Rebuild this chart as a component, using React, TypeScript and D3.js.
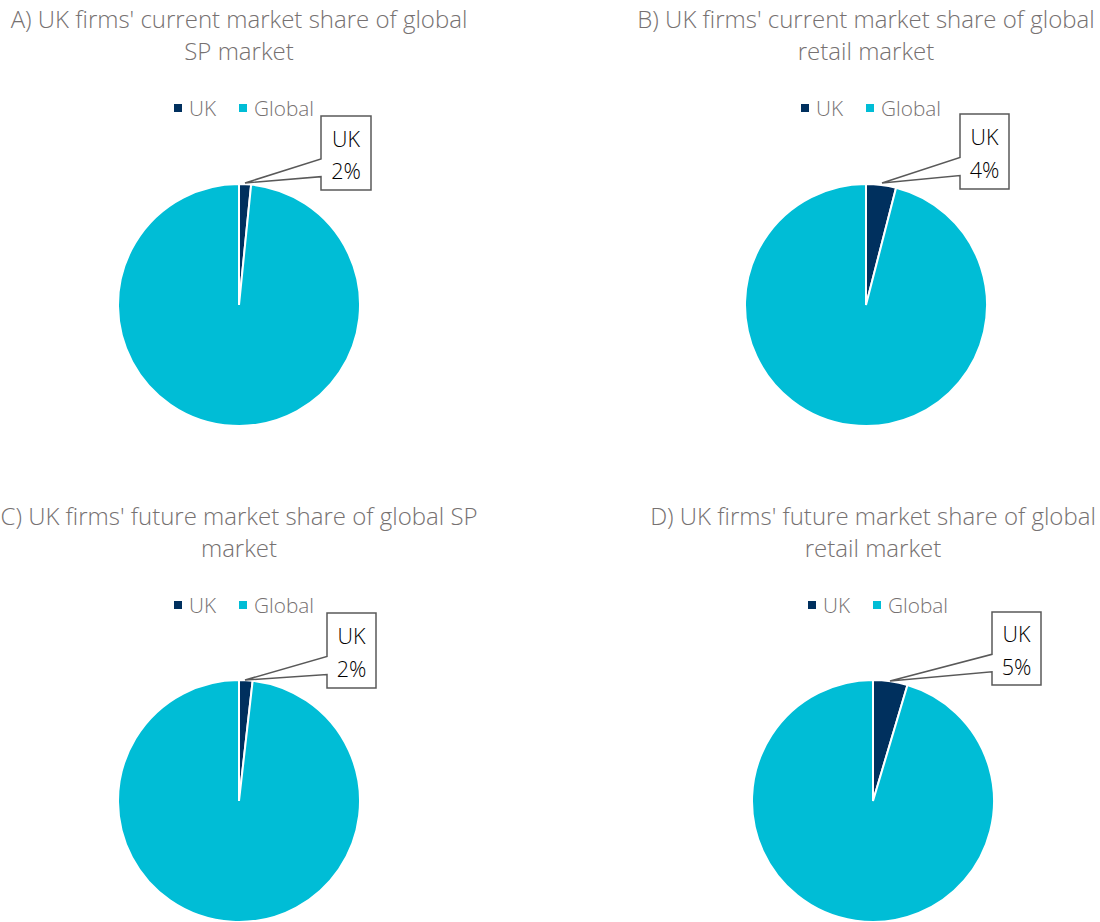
import React from "react";
import * as d3 from "d3";

const categories = ["UK", "Global"];
const panelTitles = [
  ["A) UK firms' current market share of global", "SP market"],
  ["B) UK firms' current market share of global", "retail market"],
  ["C) UK firms' future market share of global SP", "market"],
  ["D) UK firms' future market share of global", "retail market"],
];
const ukShare = [1.6, 4.0, 1.8, 4.6];
const ukLabels = ["2%", "4%", "2%", "5%"];

const COLORS = ["#00305E", "#00BDD6"];
const W = 1100;
const H = 922;

const layout = [
  { cx: 239, cy: 305, ty: 18, ly: 108, box: { x: 321, y: 116, w: 50, h: 74 }, tip: { x: 245, y: 183 } },
  { cx: 866, cy: 305, ty: 18, ly: 108, box: { x: 960, y: 114, w: 49, h: 75 }, tip: { x: 882, y: 183 } },
  { cx: 239, cy: 801, ty: 515, ly: 605, box: { x: 327, y: 613, w: 49, h: 75 }, tip: { x: 245, y: 680 } },
  { cx: 873, cy: 801, ty: 515, ly: 605, box: { x: 992, y: 612, w: 49, h: 73 }, tip: { x: 890, y: 681 } },
];

const R = 121;
const FONT = "'Open Sans', 'Noto Sans', sans-serif";

function Panel({ i }: { i: number }) {
  const L = layout[i];
  const data = [ukShare[i], 100 - ukShare[i]];
  const pie = d3.pie<number>().sort(null).value((d) => d)(data);
  const arc = d3.arc<d3.PieArcDatum<number>>().innerRadius(0).outerRadius(R);
  const b = L.box;
  const wTop = b.y + b.h * 0.58;
  const wBot = b.y + b.h * 0.82;
  const callout = `M${b.x},${b.y} L${b.x + b.w},${b.y} L${b.x + b.w},${b.y + b.h} L${b.x},${b.y + b.h} L${b.x},${wBot} L${L.tip.x},${L.tip.y} L${b.x},${wTop} Z`;
  return (
    <g>
      {panelTitles[i].map((t, k) => (
        <text key={k} x={L.cx} y={L.ty + k * 32} textAnchor="middle" dominantBaseline="central" fontSize={24} fontWeight={300} fill="#767171" fontFamily={FONT}>
          {t}
        </text>
      ))}
      {categories.map((c, k) => (
        <g key={c} transform={`translate(${L.cx - 65 + k * 65},${L.ly})`}>
          <rect x={0} y={-4} width={8} height={8} fill={COLORS[k]} />
          <text x={15} y={0} dominantBaseline="central" fontSize={20.8} fontWeight={300} fill="#767171" fontFamily={FONT}>
            {c}
          </text>
        </g>
      ))}
      <g transform={`translate(${L.cx},${L.cy})`}>
        {pie.map((p, k) => (
          <path key={k} d={arc(p) || ""} fill={COLORS[k]} stroke="#fff" strokeWidth={2} />
        ))}
      </g>
      <path d={callout} fill="#fff" stroke="#595959" strokeWidth={1.5} />
      <text x={b.x + b.w / 2} y={b.y + b.h * 0.3} textAnchor="middle" dominantBaseline="central" fontSize={21.5} fontWeight={300} fill="#000" fontFamily={FONT}>
        {categories[0]}
      </text>
      <text x={b.x + b.w / 2} y={b.y + b.h * 0.74} textAnchor="middle" dominantBaseline="central" fontSize={21.5} fontWeight={300} fill="#000" fontFamily={FONT}>
        {ukLabels[i]}
      </text>
    </g>
  );
}

export default function App() {
  return (
    <svg width={W} height={H} style={{ position: "absolute", left: 0, top: 0, background: "#fff" }}>
      {[0, 1, 2, 3].map((i) => (
        <Panel key={i} i={i} />
      ))}
    </svg>
  );
}
